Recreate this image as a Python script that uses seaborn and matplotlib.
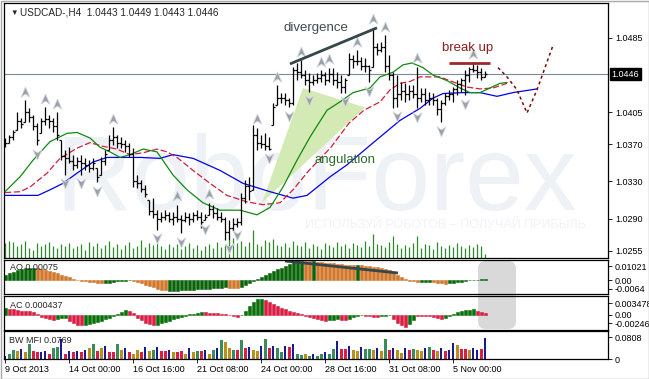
import numpy as np
import matplotlib
matplotlib.use("Agg")
import matplotlib.pyplot as plt
from matplotlib.patches import FancyBboxPatch, Polygon, Rectangle
from matplotlib.path import Path
import seaborn as sns

# ------------------------------------------------------------------
# USDCAD H4 bars, bar 0 = 9 Oct 2013
# ------------------------------------------------------------------
highs = [
    1.0377, 1.0380, 1.0386, 1.0405, 1.0399, 1.0418, 1.0409, 1.0402, 1.0393, 1.0399,
    1.0410, 1.0402, 1.0399, 1.0405, 1.0375, 1.0364, 1.0367, 1.0359, 1.0356, 1.0359,
    1.0355, 1.0353, 1.0355, 1.0345, 1.0356, 1.0364, 1.0380, 1.0389, 1.0380, 1.0378,
    1.0375, 1.0372, 1.0366, 1.0337, 1.0332, 1.0326, 1.0310, 1.0312, 1.0299, 1.0297,
    1.0299, 1.0297, 1.0297, 1.0305, 1.0294, 1.0297, 1.0296, 1.0297, 1.0299, 1.0297,
    1.0295, 1.0307, 1.0305, 1.0301, 1.0297, 1.0292, 1.0288, 1.0291, 1.0291, 1.0318,
    1.0332, 1.0335, 1.0391, 1.0388, 1.0380, 1.0382, 1.0378, 1.0415, 1.0434, 1.0426,
    1.0426, 1.0420, 1.0454, 1.0458, 1.0461, 1.0450, 1.0447, 1.0445, 1.0447, 1.0450,
    1.0448, 1.0453, 1.0453, 1.0448, 1.0445, 1.0442, 1.0469, 1.0467, 1.0472, 1.0464,
    1.0463, 1.0456, 1.0496, 1.0480, 1.0481, 1.0488, 1.0467, 1.0448, 1.0445, 1.0437,
    1.0436, 1.0434, 1.0434, 1.0454, 1.0431, 1.0431, 1.0427, 1.0426, 1.0420, 1.0418,
    1.0426, 1.0429, 1.0432, 1.0440, 1.0442, 1.0450, 1.0454, 1.0459, 1.0456, 1.0453,
    1.0449,
]
lows = [
    1.0367, 1.0372, 1.0375, 1.0386, 1.0388, 1.0394, 1.0394, 1.0386, 1.0369, 1.0382,
    1.0391, 1.0388, 1.0383, 1.0375, 1.0353, 1.0337, 1.0350, 1.0342, 1.0345, 1.0337,
    1.0342, 1.0340, 1.0342, 1.0329, 1.0337, 1.0348, 1.0364, 1.0369, 1.0366, 1.0366,
    1.0362, 1.0356, 1.0324, 1.0323, 1.0319, 1.0313, 1.0294, 1.0291, 1.0278, 1.0286,
    1.0288, 1.0286, 1.0283, 1.0286, 1.0274, 1.0286, 1.0283, 1.0286, 1.0288, 1.0280,
    1.0288, 1.0294, 1.0291, 1.0288, 1.0286, 1.0267, 1.0267, 1.0276, 1.0281, 1.0283,
    1.0307, 1.0310, 1.0321, 1.0364, 1.0366, 1.0364, 1.0364, 1.0391, 1.0413, 1.0415,
    1.0413, 1.0410, 1.0413, 1.0440, 1.0442, 1.0434, 1.0427, 1.0434, 1.0436, 1.0437,
    1.0434, 1.0437, 1.0434, 1.0431, 1.0426, 1.0426, 1.0445, 1.0453, 1.0456, 1.0450,
    1.0448, 1.0437, 1.0454, 1.0467, 1.0470, 1.0448, 1.0440, 1.0409, 1.0410, 1.0418,
    1.0416, 1.0418, 1.0420, 1.0409, 1.0416, 1.0413, 1.0413, 1.0413, 1.0402, 1.0394,
    1.0413, 1.0418, 1.0416, 1.0423, 1.0427, 1.0423, 1.0437, 1.0448, 1.0442, 1.0440,
    1.0443,
]
closes = [
    1.0372, 1.0378, 1.0383, 1.0395, 1.0392, 1.0405, 1.0400, 1.0390, 1.0375, 1.0395,
    1.0398, 1.0395, 1.0390, 1.0380, 1.0358, 1.0355, 1.0352, 1.0348, 1.0352, 1.0350,
    1.0348, 1.0345, 1.0350, 1.0335, 1.0352, 1.0360, 1.0375, 1.0378, 1.0372, 1.0370,
    1.0368, 1.0360, 1.0330, 1.0328, 1.0322, 1.0316, 1.0298, 1.0295, 1.0290, 1.0292,
    1.0294, 1.0290, 1.0292, 1.0290, 1.0288, 1.0292, 1.0290, 1.0294, 1.0292, 1.0286,
    1.0292, 1.0300, 1.0296, 1.0292, 1.0290, 1.0275, 1.0280, 1.0284, 1.0286, 1.0312,
    1.0325, 1.0320, 1.0380, 1.0372, 1.0370, 1.0368, 1.0365, 1.0410, 1.0420, 1.0420,
    1.0418, 1.0415, 1.0450, 1.0448, 1.0445, 1.0440, 1.0438, 1.0440, 1.0442, 1.0445,
    1.0440, 1.0446, 1.0440, 1.0437, 1.0432, 1.0440, 1.0462, 1.0460, 1.0460, 1.0455,
    1.0455, 1.0450, 1.0475, 1.0472, 1.0475, 1.0455, 1.0445, 1.0420, 1.0425, 1.0428,
    1.0425, 1.0428, 1.0425, 1.0420, 1.0425, 1.0418, 1.0420, 1.0418, 1.0408, 1.0415,
    1.0422, 1.0425, 1.0430, 1.0435, 1.0440, 1.0445, 1.0452, 1.0450, 1.0448, 1.0443,
    1.0446,
]
first_open = 1.0375

# tick volume (hundreds)
tick_volume = [
    15, 17, 16, 12, 14, 17, 10, 8, 15, 12, 14, 16, 12, 10,
    14, 12, 15, 10, 12, 14, 8, 16, 12, 15, 10, 13, 17, 11, 14, 9, 13, 16, 10, 12,
    18, 11, 15, 13, 16, 12, 9, 14,
    11, 14, 9, 12, 15, 10, 13, 8, 12, 14, 10, 16, 11, 13, 18, 20, 15, 17, 12, 16,
    28,
    14, 12, 18, 16, 19, 13, 12, 15, 11, 17, 13, 12, 16, 10, 14, 12, 9, 15,
    13, 11, 16, 12, 14, 10, 15, 13, 11, 17, 12, 24, 14, 13, 11, 16, 22, 14, 10,
    13, 11, 15, 22, 10, 14, 13, 9, 16, 12, 10, 13, 11, 15, 12, 10, 13, 11, 14, 12, 4,
]

# Alligator lines (bar position, price)
jaw_x = [0, 3.75, 8.25, 11.25, 14.5, 18, 22, 25.5, 33.75, 38.75, 42, 47, 53.75, 59.5,
         66.25, 72, 75.5, 81.25, 85.5, 91.25, 98.75, 103.75, 107, 109.5, 114.5,
         118.75, 123, 127, 133]
jaw_y = [1.0315, 1.0315, 1.0315, 1.0321, 1.0328, 1.0339, 1.0351, 1.0356, 1.0356,
         1.0355, 1.0359, 1.0355, 1.0342, 1.0328, 1.0319, 1.0312, 1.0315, 1.0335,
         1.0348, 1.0369, 1.0396, 1.0409, 1.0420, 1.0425, 1.0426, 1.0426, 1.0422,
         1.0426, 1.0430]
teeth_x = [0, 3.75, 6.25, 10.5, 13.75, 18, 21.25, 24.5, 28, 31.25, 34.5, 38, 40.5, 43,
           47, 51.25, 55.5, 60.5, 64.5, 68.75, 72, 76, 81.5, 86, 89.75, 93.75, 96.25,
           98.75, 101.25, 103.75, 108.75, 110.5, 113, 115.5, 118.75, 122, 125.5]
teeth_y = [1.0318, 1.0319, 1.0324, 1.0339, 1.0355, 1.0366, 1.0372, 1.0368, 1.0365,
           1.0359, 1.0361, 1.0365, 1.0362, 1.0356, 1.0342, 1.0328, 1.0315, 1.0308,
           1.0305, 1.0307, 1.0321, 1.0342, 1.0367, 1.0393, 1.0407, 1.0416, 1.0429,
           1.0436, 1.0438, 1.0443, 1.0443, 1.0440, 1.0436, 1.0432, 1.0430, 1.0431,
           1.0436]
lips_x = [0, 3.75, 7, 11.25, 15.5, 18, 21.25, 23.75, 26.25, 28.75, 31.25, 34.5, 38, 42,
          45.5, 49.5, 53.75, 58.75, 63, 66.25, 69.5, 73, 76.25, 80.5, 83.75, 87, 91.25,
          93.75, 97, 99.5, 101.75, 104.5, 107, 110.5, 113.75, 116.25, 118.75, 121.25,
          123.75, 125.5]
lips_y = [1.0319, 1.0335, 1.0353, 1.0373, 1.0382, 1.0383, 1.0377, 1.0367, 1.0362,
          1.0356, 1.0359, 1.0365, 1.0362, 1.0337, 1.0321, 1.0307, 1.0299, 1.0299,
          1.0294, 1.0302, 1.0324, 1.0353, 1.0378, 1.0407, 1.0416, 1.0426, 1.0431,
          1.0443, 1.0448, 1.0456, 1.0458, 1.0453, 1.0445, 1.0439, 1.0431, 1.0426,
          1.0426, 1.0431, 1.0436, 1.0437]

# forecast path (dotted)
forecast_x = [123.25, 125.5, 128, 130.5, 133, 134.5, 137]
forecast_y = [1.0453, 1.0443, 1.0429, 1.0404, 1.0429, 1.0447, 1.0477]

# fractal bars
fractal_up = [5, 10, 13, 27, 43, 51, 63, 68, 74, 79, 81, 88, 92, 95, 103, 117]
fractal_down = [8, 15, 19, 23, 38, 44, 50, 56, 58, 66, 71, 76, 85, 91, 98, 103, 109, 115]

# annotations
divergence_x = [71.25, 93]
divergence_y = [1.0457, 1.0496]
breakup_x = [111, 121.25]
breakup_y = [1.0458, 1.0458]
wedge_x = [64.25, 74.5, 90]
wedge_y = [1.0307, 1.0431, 1.0410]
ao_div_x = [70, 98.25]
ao_div_y = [0.01386, 0.0051]

# Awesome Oscillator
ao_values = [
    0.0040, 0.0050, 0.0060, 0.0070, 0.0078, 0.0084, 0.0087, 0.0088,
    0.0085, 0.0080, 0.0075, 0.0068, 0.0060, 0.0050, 0.0040, 0.0030, 0.0020, 0.0010,
    0.0002, -0.0005, -0.0010, -0.0014, -0.0018, -0.0021, -0.0024,
    -0.0024, -0.0022, -0.0016, -0.0010, -0.0006, -0.0004, -0.0003,
    -0.0008, -0.0015, -0.0024, -0.0033, -0.0043, -0.0053, -0.0062, -0.0070, -0.0076,
    -0.0079, -0.0078, -0.0077, -0.0076, -0.0074, -0.0072, -0.0070, -0.0068, -0.0066,
    -0.0064, -0.0062, -0.0060, -0.0058, -0.0056, -0.0054,
    -0.0056, -0.0057, -0.0058,
    -0.0050, -0.0038, -0.0025, -0.0008, 0.0010, 0.0025, 0.0040, 0.0052, 0.0065, 0.0078,
    0.0090, 0.0105, 0.0118, 0.0130, 0.0138, 0.0142,
    0.0140, 0.0138, 0.0137,
    0.0134, 0.0130, 0.0127, 0.0124, 0.0122, 0.0120, 0.0117, 0.0113, 0.0111, 0.0108,
    0.0110,
    0.0108, 0.0105, 0.0100, 0.0098, 0.0095, 0.0090, 0.0082, 0.0070, 0.0055, 0.0040,
    0.0020, 0.0005, -0.0005, -0.0010, -0.0015,
    -0.0014, -0.0013, -0.0012,
    -0.0016, -0.0020, -0.0024, -0.0026,
    -0.0024, -0.0021, -0.0017, -0.0012, -0.0007, -0.0003, 0.0000, 0.0003, 0.0005, 0.00075,
]
ao_colors = ("G" * 8 + "O" * 17 + "G" * 7 + "O" * 9 + "G" * 15 + "O" * 3 + "G" * 16
             + "O" * 2 + "G" + "O" * 10 + "G" + "O" * 15 + "G" * 3 + "O" * 4 + "G" * 10)

# Accelerator Oscillator
ac_values = [
    0.0019, 0.0017, 0.0016, 0.0015, 0.0013, 0.0012, 0.0011, 0.0008, 0.0003, -0.0006,
    -0.0010, -0.0012, -0.0014, -0.0012, -0.0010, -0.0009, -0.0018, -0.0024, -0.0028, -0.0030,
    -0.0028, -0.0025, -0.0022, -0.0019, -0.0016, -0.0012, -0.0008, -0.0004, 0.0004, 0.0010,
    0.0014, 0.0012, 0.0006, -0.0008, -0.0015, -0.0022, -0.0027, -0.0030, -0.0028, -0.0024,
    -0.0020, -0.0016, -0.0012, -0.0009, -0.0006, -0.0003, 0.0002, 0.0004, 0.0006, 0.0009,
    0.0008, 0.0007, 0.0006, 0.0005, 0.0004, 0.0003, 0.0001, -0.0003, -0.0005, 0.0001,
    0.0012, 0.0025, 0.0038, 0.0046, 0.0047, 0.0044, 0.0038, 0.0032, 0.0026, 0.0021,
    0.0017, 0.0013, 0.0009, 0.0005, 0.0002, -0.0002, -0.0006, -0.0010, -0.0013, -0.0015,
    -0.0016, -0.0015, -0.0014, -0.0013, -0.0014, -0.0015, -0.0011, -0.0007, -0.0002, 0.0001,
    -0.0002, -0.0004, -0.0005, -0.0006, -0.0004, -0.0002, -0.0001, -0.0012, -0.0022, -0.0030,
    -0.0034, -0.0025, -0.0015, -0.0004, -0.0002, -0.0003, -0.0004, -0.0006, -0.0009, -0.0012,
    -0.0008, -0.0004, 0.0003, 0.0008, 0.0012, 0.0014, 0.0015, 0.0016, 0.0012, 0.0008,
    0.000437,
]
ac_colors = ("G" + "R" * 12 + "G" * 3 + "R" * 4 + "G" * 11 + "R" * 7 + "G" * 12 + "R" * 9
             + "G" * 6 + "R" * 16 + "G" * 3 + "R" * 2 + "G" * 4 + "R" * 4 + "G" * 3
             + "R" * 4 + "G" * 2 + "R" * 7 + "G" * 8 + "R" * 3)

# Market Facilitation Index
mfi_values = [
    0.010, 0.020, 0.035, 0.030, 0.036, 0.025, 0.058, 0.030, 0.025, 0.028,
    0.030, 0.020, 0.040, 0.045, 0.075, 0.020, 0.030, 0.025, 0.030, 0.025,
    0.035, 0.040, 0.055, 0.030, 0.040, 0.050, 0.025, 0.025, 0.055, 0.035,
    0.040, 0.025, 0.020, 0.035, 0.025, 0.045, 0.030, 0.035, 0.045, 0.030,
    0.030, 0.035, 0.028, 0.025, 0.030, 0.020, 0.040, 0.025, 0.030, 0.030,
    0.035, 0.020, 0.035, 0.040, 0.070, 0.065, 0.040, 0.035, 0.035, 0.070,
    0.040, 0.045, 0.035, 0.030, 0.050, 0.075, 0.040, 0.050, 0.040, 0.025,
    0.050, 0.045, 0.055, 0.020, 0.015, 0.020, 0.010, 0.020, 0.010, 0.020,
    0.025, 0.020, 0.036, 0.068, 0.036, 0.036, 0.048, 0.034, 0.030, 0.045,
    0.036, 0.039, 0.032, 0.040, 0.030, 0.075, 0.032, 0.040, 0.032, 0.022,
    0.040, 0.032, 0.036, 0.032, 0.030, 0.040, 0.046, 0.032, 0.030, 0.040,
    0.030, 0.035, 0.060, 0.052, 0.039, 0.039, 0.032, 0.040, 0.032, 0.039,
    0.0769,
]
mfi_colors = ("BGGKBKGRRB" "BRGGBRBRBR" "BKGRKBRRGK" "BRKKRBKGBR" "RBKRRKBKGR"
              "BKGBGKKGRG" "RBKKBGRBGG" "BRBGGKGBGG" "BGGBRRBKKB" "GGKBKGRBKK"
              "BRGKKBGRKB" "RBBKRRKBBR" "B")

date_ticks = [0, 16, 32, 48, 64, 80, 96, 112]
date_labels = ["9 Oct 2013", "14 Oct 00:00", "16 Oct 16:00", "21 Oct 08:00",
               "24 Oct 00:00", "28 Oct 16:00", "31 Oct 08:00", "5 Nov 00:00"]
price_ticks = [1.0485, 1.0405, 1.0370, 1.0330, 1.0290, 1.0255]
current_price = 1.0446

# ------------------------------------------------------------------
sns.set_style("white")
plt.rcParams["font.family"] = ["Liberation Sans", "DejaVu Sans"]
plt.rcParams["font.size"] = 6.5

AO_C = {"G": "#0a650a", "O": "#d2782d"}
AC_C = {"G": "#0a700a", "R": "#d81e42"}
MFI_C = {"G": "#3a8c5c", "K": "#b8901e", "R": "#dc1e46", "B": "#1a1a90"}

fig = plt.figure(figsize=(6.49, 3.79), dpi=100)
L, W = 4 / 649, 604 / 649
ax = fig.add_axes([L, 0.32058, W, 0.6715])
ax_ao = fig.add_axes([L, 0.22427, W, 0.09103], sharex=ax)
ax_ac = fig.add_axes([L, 0.12929, W, 0.08971], sharex=ax)
ax_mfi = fig.add_axes([L, 0.05277, W, 0.07256], sharex=ax)

idx = np.arange(len(highs))
highs = np.array(highs)
lows = np.array(lows)
closes = np.array(closes)
opens = np.clip(np.r_[first_open, closes[:-1]], lows, highs)

# ---- main price panel ----
ax.text(12.5, 1.0299, "RoboForex", fontsize=76, color="#eef1f5",
        ha="left", va="baseline", zorder=0)
ax.text(75, 1.0280, "ИСПОЛЬЗУЙ РОБОТОВ – ПОЛУЧАЙ ПРИБЫЛЬ", fontsize=9,
        color="#eff2f6", ha="left", va="baseline", zorder=0)

ax.add_patch(Polygon(np.column_stack([wedge_x, wedge_y]), closed=True,
                     fc="#d4eab4", ec="none", zorder=1))

vol = np.array(tick_volume) / 254.5
ax.vlines(idx, 0, vol, transform=ax.get_xaxis_transform(),
          color="#2f8a2f", lw=0.9, zorder=1.5)

ax.axhline(current_price, color="#7a8a9a", lw=0.8, zorder=2)

sns.lineplot(x=jaw_x, y=jaw_y, ax=ax, color="#0000ee", lw=0.9, zorder=3)
sns.lineplot(x=teeth_x, y=teeth_y, ax=ax, color="#d21e3c", lw=0.9,
             linestyle=(0, (5, 2)), zorder=3)
sns.lineplot(x=lips_x, y=lips_y, ax=ax, color="#108a10", lw=0.9, zorder=3)
sns.lineplot(x=forecast_x, y=forecast_y, ax=ax, color="#7a0a0a", lw=1.1,
             linestyle=(0, (2, 2)), zorder=3)

ax.vlines(idx, lows, highs, color="black", lw=0.9, zorder=4)
ax.hlines(opens, idx - 0.5, idx, color="black", lw=0.9, zorder=4)
ax.hlines(closes, idx, idx + 0.5, color="black", lw=0.9, zorder=4)

arrow_up = Path([(0, 1), (0.8, -0.85), (0, -0.3), (-0.8, -0.85), (0, 1)],
                [Path.MOVETO, Path.LINETO, Path.LINETO, Path.LINETO, Path.CLOSEPOLY])
arrow_dn = Path([(0, -1), (0.8, 0.85), (0, 0.3), (-0.8, 0.85), (0, -1)],
                [Path.MOVETO, Path.LINETO, Path.LINETO, Path.LINETO, Path.CLOSEPOLY])
ax.plot(fractal_up, highs[fractal_up] + 0.0009, ls="none", marker=arrow_up, ms=8,
        mfc="#9aa0aa", mec="#d6d9de", mew=0.6, zorder=5)
ax.plot(fractal_down, lows[fractal_down] - 0.0009, ls="none", marker=arrow_dn, ms=8,
        mfc="#9aa0aa", mec="#d6d9de", mew=0.6, zorder=5)

ax.plot(divergence_x, divergence_y, color="#34474a", lw=2, solid_capstyle="butt", zorder=6)
ax.text(77.75, 1.0496, "divergence", fontsize=9.5, color="#3c4c50",
        ha="center", va="center", zorder=6)
ax.text(85, 1.0353, "angulation", fontsize=9.5, color="#2d6b2d",
        ha="center", va="center", zorder=6)
ax.plot(breakup_x, breakup_y, color="#a0282a", lw=2, solid_capstyle="butt", zorder=6)
ax.text(115.75, 1.0474, "break up", fontsize=9.5, color="#8b1c1c",
        ha="center", va="center", zorder=6)

ax.text(0.0115, 0.961, "▼", transform=ax.transAxes, fontsize=5.5,
        va="center", ha="left")
ax.text(0.0265, 0.961, "USDCAD-,H4  1.0443 1.0449 1.0443 1.0446",
        transform=ax.transAxes, fontsize=7.2, va="center", ha="left")
ax.text(1.006, current_price, "1.0446", transform=ax.get_yaxis_transform(),
        fontsize=6.5, color="white", va="center", ha="left",
        bbox=dict(boxstyle="square,pad=0.15", fc="black", ec="black"))

ax.set_ylim(1.02479, 1.05228)
ax.set_yticks(price_ticks)
ax.set_yticklabels([f"{p:.4f}" for p in price_ticks])
ax.set_xlim(-0.25, 150.75)

# ---- AO ----
ao_cols = [AO_C[c] for c in ao_colors]
ax_ao.bar(idx, ao_values, width=0.75, color=ao_cols, edgecolor=ao_cols, lw=0.4)
ax_ao.plot(ao_div_x, ao_div_y, color="#34474a", lw=2, solid_capstyle="butt")
ax_ao.set_ylim(-0.01021, 0.01495)
ax_ao.set_yticks([0.01021, 0.0, -0.0064])
ax_ao.set_yticklabels(["0.01021", "0.00", "-0.0064"])
ax_ao.text(0.01, 0.78, "AO 0.00075", transform=ax_ao.transAxes, fontsize=6.5,
           va="center", zorder=5)

# ---- AC ----
ac_cols = [AC_C[c] for c in ac_colors]
ax_ac.bar(idx, ac_values, width=0.75, color=ac_cols, edgecolor=ac_cols, lw=0.4)
ax_ac.set_ylim(-0.00435, 0.00551)
ax_ac.set_yticks([0.003478, 0.0, -0.00246])
ax_ac.set_yticklabels(["0.003478", "0.00", "-0.00246"])
ax_ac.text(0.01, 0.735, "AC 0.000437", transform=ax_ac.transAxes, fontsize=6.5,
           va="center", zorder=5)

# ---- BW MFI ----
mfi_w = [0.3 if c == "B" else 0.75 for c in mfi_colors]
ax_mfi.bar(idx, mfi_values, width=mfi_w, color=[MFI_C[c] for c in mfi_colors], lw=0)
ax_mfi.set_ylim(0, 0.103)
ax_mfi.set_yticks([0.0808, 0.0])
ax_mfi.set_yticklabels(["0.0808", "0"])
ax_mfi.text(0.008, 0.69, "BW MFI 0.0769", transform=ax_mfi.transAxes, fontsize=6.5,
            va="center", zorder=5)
ax_mfi.set_xticks(date_ticks)
ax_mfi.set_xticklabels(date_labels)
for lbl in ax_mfi.get_xticklabels():
    lbl.set_ha("left")

for a in (ax, ax_ao, ax_ac, ax_mfi):
    a.set_facecolor("none")
    a.grid(False)
    for s in a.spines.values():
        s.set_color("black")
        s.set_linewidth(0.9)
        s.set_visible(True)
    a.yaxis.tick_right()
    a.tick_params(axis="y", right=True, left=False, labelright=True, labelleft=False,
                  direction="out", length=3, width=0.6, pad=2, labelsize=6.5,
                  colors="black")
    a.tick_params(axis="x", bottom=False, labelbottom=False)
ax_mfi.tick_params(axis="x", bottom=True, labelbottom=True, direction="out",
                   length=3, width=0.6, pad=1, labelsize=6.5, colors="black")

# grey marker box spanning AO/AC, behind the bars
fig.add_artist(FancyBboxPatch((0.7365, 0.13193), 0.05855, 0.17942,
                              boxstyle="round,pad=0,rounding_size=0.012",
                              mutation_aspect=649 / 379, transform=fig.transFigure,
                              fc="#d9d9d9", ec="none", zorder=-1))
fig.add_artist(Rectangle((0.0008, 0.001), 0.9985, 0.997, transform=fig.transFigure,
                         fill=False, ec="#a8a8a8", lw=1))

fig.savefig("out.png", dpi=100, facecolor="white")
